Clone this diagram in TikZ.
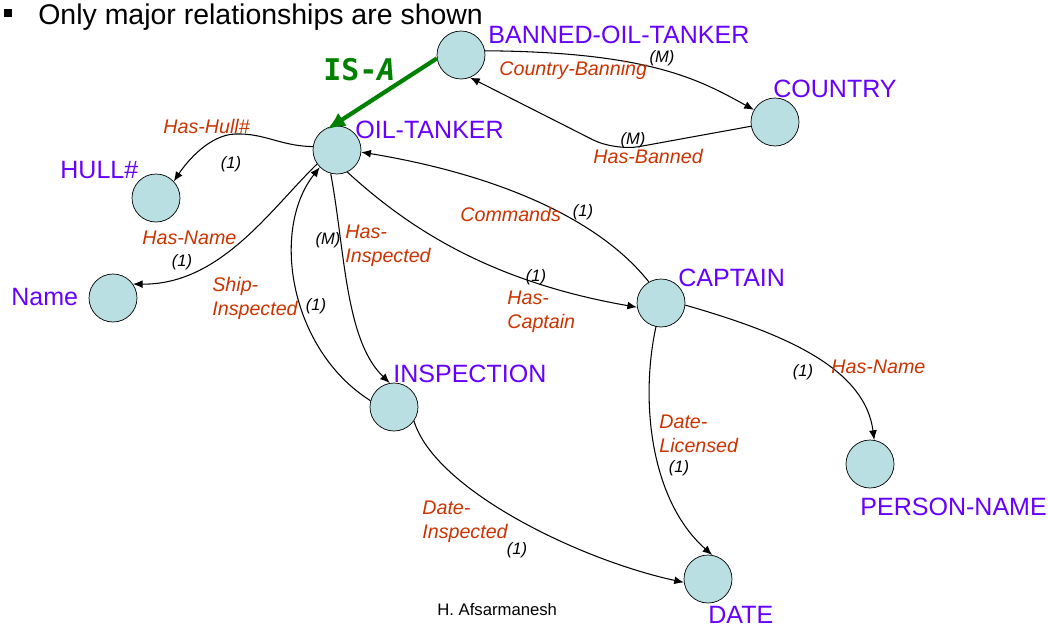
\documentclass[tikz,border=0pt]{standalone}
\usepackage{fontspec}
\setmainfont{Liberation Sans}
\newfontfamily\isafont{DejaVu Sans Mono}
\usetikzlibrary{arrows.meta}
\definecolor{entfill}{RGB}{185,223,226}
\definecolor{entname}{RGB}{102,0,255}
\definecolor{relname}{RGB}{204,51,0}
\definecolor{isagreen}{RGB}{0,128,0}

\begin{document}
\begin{tikzpicture}[x=0.02cm,y=-0.02cm,
  entity/.style={circle,draw,fill=entfill,minimum size=0.96cm,inner sep=0pt},
  ename/.style={text=entname,font=\fontsize{14.25}{16}\selectfont,inner sep=0pt,anchor=base west},
  rname/.style={text=relname,font=\fontsize{11.2}{13.7}\selectfont\itshape,inner sep=0pt,align=left},
  card/.style={font=\fontsize{9.4}{11}\selectfont\itshape,inner sep=0pt},
  rel/.style={-{Latex[length=5.5pt,width=4.5pt]},line width=0.6pt},
  isa/.style={-{Latex[length=10pt,width=9pt]},line width=2.4pt,draw=isagreen}]
\useasboundingbox (0,0) rectangle (1048,629);

\fill (4,9) rectangle (12,17);
\node[anchor=base west,inner sep=0pt,font=\fontsize{16.2}{19}\selectfont] (title) at (38,24) {Only major relationships are shown};

\node[entity] (ban) at (461,55) {};
\node[entity] (cty) at (775,122) {};
\node[entity] (ot) at (337,150) {};
\node[entity] (hull) at (156,198) {};
\node[entity] (nm) at (113,298) {};
\node[entity] (cap) at (661,303) {};
\node[entity] (insp) at (394,407) {};
\node[entity] (date) at (708,579) {};
\node[entity] (pn) at (870,464) {};

\node[ename] (banlbl) at (488,43) {BANNED-OIL-TANKER};
\node[ename] (ctylbl) at (773,97) {COUNTRY};
\node[ename] (otlbl) at (355,138) {OIL-TANKER};
\node[ename] (hulllbl) at (60,178) {HULL\#};
\node[ename] (nmlbl) at (11,305) {Name};
\node[ename] (caplbl) at (678,286) {CAPTAIN};
\node[ename] (insplbl) at (393,382) {INSPECTION};
\node[ename] (pnlbl) at (860,515) {PERSON-NAME};
\node[ename] (datelbl) at (708,623) {DATE};

\draw[isa,shorten >=-3pt] (ban.188) -- (ot.102);
\node[anchor=base west,inner sep=0pt,text=isagreen,font=\isafont\bfseries\fontsize{17}{20}\selectfont] (isalbl) at (323,80) {IS-\itshape A};

\draw[rel] (ban.10) .. controls (650,52) and (700,80) .. (cty.150);
\draw[rel,rounded corners=14pt] (cty.190) -- (615,151) -- (ban.292);
\draw[rel] (ot.172) .. controls (280,146) and (265,133) .. (235,134) .. controls (210,135) and (188,160) .. (hull.43);
\draw[rel] (ot.215) .. controls (270,210) and (220,285) .. (nm.35);
\draw[rel] (insp.165) .. controls (290,350) and (270,230) .. (ot.225);
\draw[rel] (ot.255) .. controls (345,250) and (345,340) .. (insp.100);
\draw[rel] (ot.-65) .. controls (400,220) and (480,280) .. (cap.190);
\draw[rel] (cap.120) .. controls (600,220) and (500,175) .. (ot.-5);
\draw[rel] (cap.-5) .. controls (790,335) and (865,370) .. (pn.80);
\draw[rel] (cap.258) .. controls (640,400) and (650,500) .. (date.80);
\draw[rel] (insp.-35) .. controls (435,490) and (580,560) .. (date.188);

\node[rname,anchor=base west] (cbl) at (499,75) {Country-Banning};
\node[rname,anchor=base west] (hbl) at (593,163) {Has-Banned};
\node[rname,anchor=base west] (hhl) at (163,133) {Has-Hull\#};
\node[rname,anchor=base west] (hnl) at (142,244) {Has-Name};
\node[rname,anchor=north west] (sil) at (212,277) {Ship-\\Inspected};
\node[rname,anchor=north west] (hil) at (345,225) {Has-\\Inspected};
\node[rname,anchor=base west] (cml) at (460,221) {Commands};
\node[rname,anchor=north west] (hcl) at (507,291) {Has-\\Captain};
\node[rname,anchor=base west] (cnl) at (831,373) {Has-Name};
\node[rname,anchor=north west] (dll) at (659,415) {Date-\\Licensed};
\node[rname,anchor=north west] (dil) at (422,501) {Date-\\Inspected};

\node[card] (c1) at (662,58) {(M)};
\node[card] (c2) at (633,140) {(M)};
\node[card] (c3) at (231,164) {(1)};
\node[card] (c4) at (182,262) {(1)};
\node[card] (c5) at (316,306) {(1)};
\node[card] (c6) at (328,240) {(M)};
\node[card] (c7) at (583,212) {(1)};
\node[card] (c8) at (536,277) {(1)};
\node[card] (c9) at (803,372) {(1)};
\node[card] (c10) at (679,468) {(1)};
\node[card] (c11) at (517,550) {(1)};

\node[anchor=base west,inner sep=0pt,font=\fontsize{9.5}{11}\selectfont] (author) at (437,615) {H. Afsarmanesh};
\end{tikzpicture}
\end{document}
